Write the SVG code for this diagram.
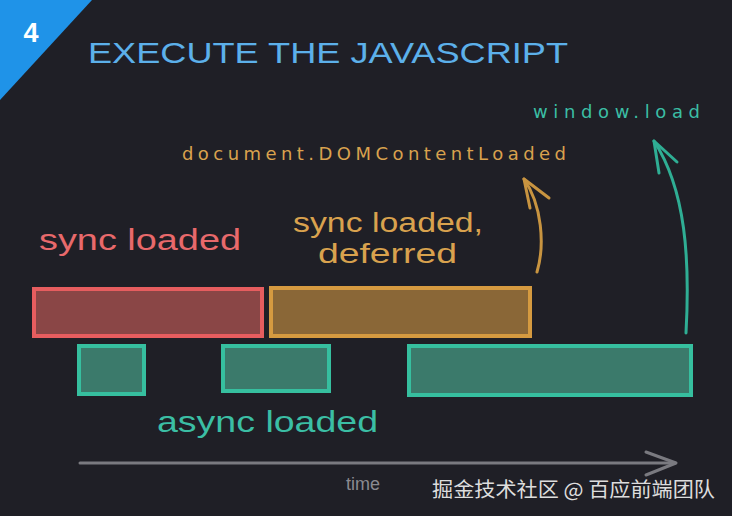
<svg xmlns="http://www.w3.org/2000/svg" width="732" height="516" viewBox="0 0 732 516">
<style>
.lbl{font-family:"Liberation Sans","DejaVu Sans",sans-serif}
.mono{font-family:"DejaVu Sans","Liberation Sans",sans-serif}
.red{fill:#8a4646;stroke:#e65d5f;stroke-width:4}
.org{fill:#8a6737;stroke:#d59a40;stroke-width:4}
.teal{fill:#3b7a6b;stroke:#36bf9f;stroke-width:4}
.arr{fill:none;stroke-width:3;stroke-linecap:round;stroke-linejoin:round}
</style>
<rect width="732" height="516" fill="#1f1f26"/>
<polygon points="0,0 92,0 0,100" fill="#1f93e8"/>
<text x="31" y="42" class="lbl" font-size="27" font-weight="bold" fill="#ffffff" text-anchor="middle">4</text>
<text x="88" y="63" class="lbl" font-size="30" fill="#5cb0ea" textLength="480" lengthAdjust="spacingAndGlyphs">EXECUTE THE JAVASCRIPT</text>
<text x="533" y="118" class="mono" font-size="18" fill="#3bbea4" textLength="167" lengthAdjust="spacing">window.load</text>
<text x="182" y="160" class="mono" font-size="18" fill="#d9a24e" textLength="384" lengthAdjust="spacing">document.DOMContentLoaded</text>
<g id="sync-loaded">
<text x="39" y="250" class="lbl" font-size="29" fill="#e8696b" textLength="202" lengthAdjust="spacingAndGlyphs">sync loaded</text>
<rect x="34" y="289" width="228" height="47" class="red"/>
</g>
<g id="sync-deferred">
<text x="293" y="232" class="lbl" font-size="27" fill="#d9a24e" textLength="190" lengthAdjust="spacingAndGlyphs">sync loaded,</text>
<text x="318" y="263" class="lbl" font-size="27" fill="#d9a24e" textLength="139" lengthAdjust="spacingAndGlyphs">deferred</text>
<rect x="271" y="288" width="259" height="48" class="org"/>
</g>
<g id="async-loaded">
<rect x="79" y="346" width="65" height="48" class="teal"/>
<rect x="223" y="346" width="106" height="45" class="teal"/>
<rect x="409" y="346" width="282" height="49" class="teal"/>
<text x="157" y="432" class="lbl" font-size="30" fill="#3bbea4" textLength="221" lengthAdjust="spacingAndGlyphs">async loaded</text>
</g>
<g id="connectors">
<path d="M537,272 C545,245 542,205 524,179" class="arr" stroke="#c89440"/>
<path d="M530,208 L524,179 L549,198" class="arr" stroke="#c89440"/>
<path d="M686,333 C690,260 686,190 654,141" class="arr" stroke="#2fae94"/>
<path d="M659,173 L654,141 L677,162" class="arr" stroke="#2fae94"/>
<path d="M80,463 L675,463" class="arr" stroke="#7a7a80" stroke-width="3"/>
<path d="M646,452 L676,463 L646,475" class="arr" stroke="#7a7a80"/>
</g>
<text x="346" y="490" class="lbl" font-size="18" fill="#8a8a90">time</text>
<text x="432" y="497" font-family="'Noto Sans CJK SC',sans-serif" font-size="20" fill="#dddddd" textLength="283" lengthAdjust="spacingAndGlyphs">掘金技术社区 @ 百应前端团队</text>
</svg>
